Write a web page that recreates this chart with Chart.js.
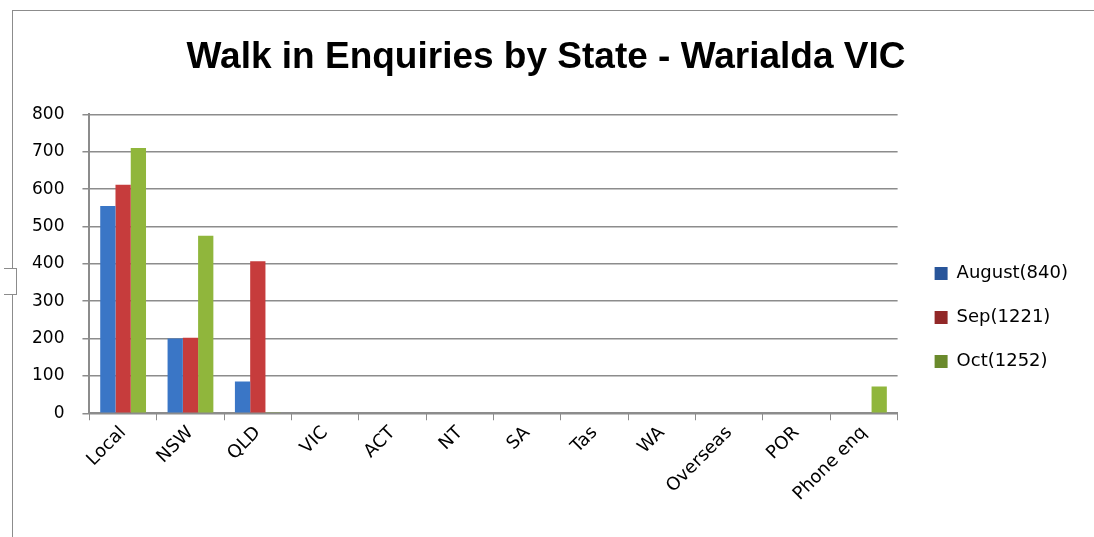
<!DOCTYPE html>
<html>
<head>
<meta charset="utf-8">
<script src="https://cdn.jsdelivr.net/npm/chart.js@4.4.1/dist/chart.umd.min.js"></script>
<style>
  html, body { margin: 0; padding: 0; background: #fff; }
  #wrap { position: relative; width: 1094px; height: 537px; }
  #frame { position: absolute; left: 12px; top: 10px; right: 0; bottom: 0;
           border-left: 1px solid #8c8c8c; border-top: 1px solid #8c8c8c; pointer-events: none; }
  #notch { position: absolute; left: 4px; top: 268px; width: 12px; height: 25px;
           border: 1px solid #8c8c8c; border-left: none; background: #fff; pointer-events: none; }
</style>
</head>
<body>
<div id="wrap">
  <canvas id="myChart" width="1094" height="537"></canvas>
  <div id="frame"></div>
  <div id="notch"></div>
</div>
<script>
// data
const categories = ['Local', 'NSW', 'QLD', 'VIC', 'ACT', 'NT', 'SA', 'Tas', 'WA', 'Overseas', 'POR', 'Phone enq']
const august = [555, 200, 85, 0, 0, 0, 0, 0, 0, 0, 0, 0]
const sep = [612, 202, 407, 0, 0, 0, 0, 0, 0, 0, 0, 0]
const oct = [710, 475, 3, 0, 0, 0, 0, 0, 0, 0, 0, 72]
const seriesNames = ['August(840)', 'Sep(1221)', 'Oct(1252)']

const tickFont = '"DejaVu Sans", "Noto Sans", sans-serif'
const titleFont = '"Liberation Sans", Arial, sans-serif'

// shaded bar fill, light in the middle like the original 3d look
function barFill(light, mid, dark) {
    return function (context) {
        const el = context.element
        const chart = context.chart
        if (!el || !chart.chartArea || el.width === undefined) return mid
        const x0 = el.x - el.width / 2
        const g = chart.ctx.createLinearGradient(x0, 0, x0 + el.width, 0)
        g.addColorStop(0, mid)
        g.addColorStop(0.4, light)
        g.addColorStop(1, dark)
        return g
    }
}

const data = {
    labels: categories,
    datasets: [{
        label: seriesNames[0],
        data: august,
        backgroundColor: barFill('#4a8ad8', '#3a76c6', '#28559a'),
        borderWidth: 0
    }, {
        label: seriesNames[1],
        data: sep,
        backgroundColor: barFill('#d84c4c', '#c63c3c', '#922828'),
        borderWidth: 0
    }, {
        label: seriesNames[2],
        data: oct,
        backgroundColor: barFill('#a8cc4c', '#90b63c', '#6a8a2c'),
        borderWidth: 0
    }]
}

const config = {
    type: 'bar',
    data,
    options: {
        responsive: false,
        animation: false,
        datasets: {
            bar: { categoryPercentage: 0.68, barPercentage: 1.0 }
        },
        layout: { padding: { left: 14, right: 16, top: 0, bottom: 30 } },
        plugins: {
            title: {
                display: true,
                text: 'Walk in Enquiries by State - Warialda VIC',
                color: '#000',
                font: { family: titleFont, size: 37, weight: 'bold' },
                padding: { top: 36, bottom: 34 }
            },
            legend: {
                position: 'right',
                // blank legend title just pushes the items down
                title: { display: true, text: ' ', font: { size: 10 }, padding: { top: 116, bottom: 0 } },
                labels: {
                    color: '#000',
                    font: { family: tickFont, size: 18 },
                    boxWidth: 13,
                    boxHeight: 13,
                    padding: 26
                }
            },
            tooltip: { enabled: false }
        },
        scales: {
            x: {
                grid: {
                    offset: true,
                    drawOnChartArea: false,
                    drawTicks: true,
                    tickLength: 7,
                    color: '#8c8c8c',
                    lineWidth: 1
                },
                border: { color: '#8c8c8c', width: 2 },
                ticks: {
                    color: '#000',
                    font: { family: tickFont, size: 18 },
                    maxRotation: 45,
                    minRotation: 45,
                    padding: 2
                }
            },
            y: {
                min: 0,
                max: 800,
                ticks: {
                    stepSize: 100,
                    color: '#000',
                    font: { family: tickFont, size: 17 },
                    padding: 18
                },
                grid: { color: '#8c8c8c', lineWidth: 1.5, tickLength: 7 },
                border: { color: '#8c8c8c', width: 2 }
            },
            // empty axis on the right, only to leave the gap before the legend
            gap: {
                type: 'linear',
                position: 'right',
                grid: { display: false, drawTicks: false },
                border: { display: false },
                ticks: { display: false },
                afterFit: function (scale) { scale.width = 11 }
            }
        }
    }
}

const myChart = new Chart(document.getElementById('myChart'), config)
</script>
</body>
</html>
